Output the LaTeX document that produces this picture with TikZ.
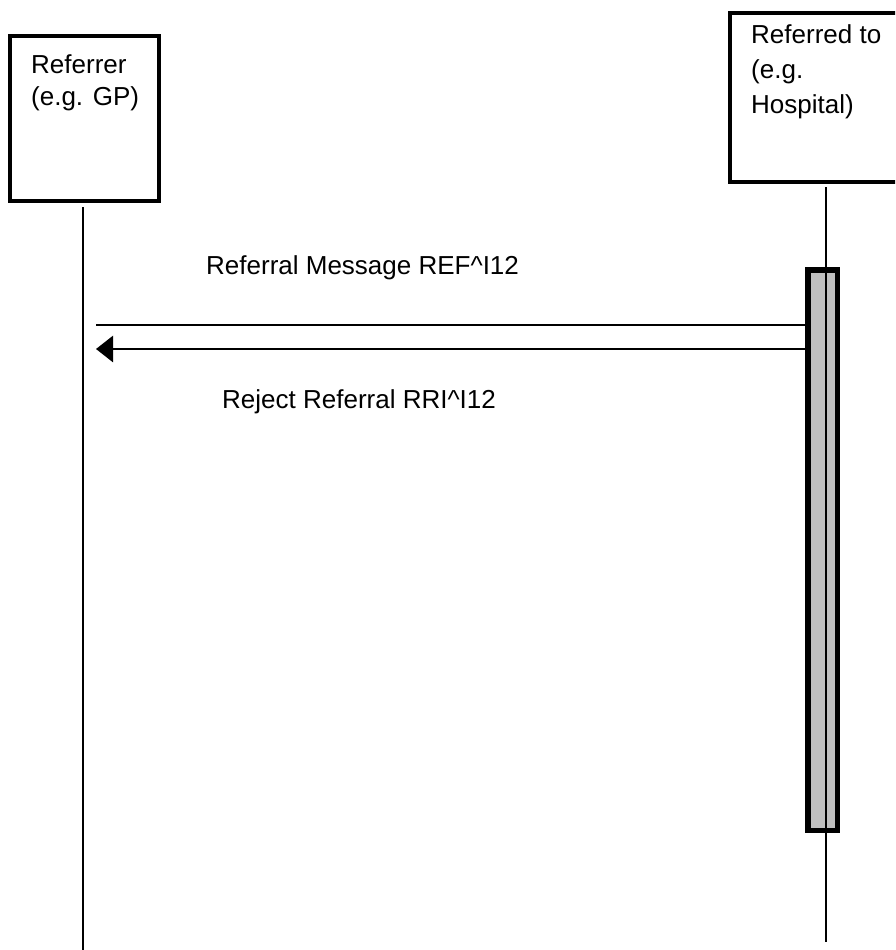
\documentclass[tikz,border=0pt]{standalone}
\usepackage{fontspec}
\setmainfont{Liberation Sans}
\usetikzlibrary{arrows.meta}
\begin{document}
\begin{tikzpicture}[x=1pt,y=-1pt,
  actor/.style={draw=black,line width=3.3pt,fill=white,rectangle,inner sep=0pt},
  lbl/.style={inner sep=0pt,font=\fontsize{26}{32}\selectfont},
  life/.style={line width=2.8pt},
  msg/.style={line width=2.8pt},
  actbar/.style={draw=black,line width=5.5pt,fill=black!25,rectangle,inner sep=0pt,outer sep=2.75pt}]
\useasboundingbox (0,0) rectangle (895,950);
\clip (0,0) rectangle (895,950);
% actor boxes
\node[actor,minimum width=149pt,minimum height=165pt] (gp) at (84.5,118.5) {};
\node[actor,minimum width=170pt,minimum height=169pt] (hosp) at (815,97.5) {};
\node[lbl,anchor=north west,align=left] (gptext) at (31,54) {Referrer\\(e.g. GP)};
\node[lbl,anchor=north west,align=left,font=\fontsize{26}{35}\selectfont] (hosptext) at (751,24) {Referred to\\(e.g.\\Hospital)};
% lifelines
\coordinate (gptop) at (83,207);
\coordinate (gpend) at (83,952);
\coordinate (hosptop) at (826,187);
\coordinate (hospend) at (826,942);
\draw[life] (gptop) -- (gpend);
% activation bar
\node[actbar,minimum width=29.5pt,minimum height=560.5pt] (act) at (822.5,550) {};
\draw[life] (hosptop) -- (hospend);
% messages
\coordinate (m1) at (96,325);
\coordinate (m2) at (96,349);
\draw[msg] (act.west |- m1) -- (m1);
\draw[msg,-{Triangle[length=17pt,width=26pt]}] (act.west |- m2) -- (m2);
\node[lbl,anchor=base west] (m1lbl) at (206,274) {Referral Message REF\^{}I12};
\node[lbl,anchor=base west] (m2lbl) at (222,408) {Reject Referral RRI\^{}I12};
\end{tikzpicture}
\end{document}
